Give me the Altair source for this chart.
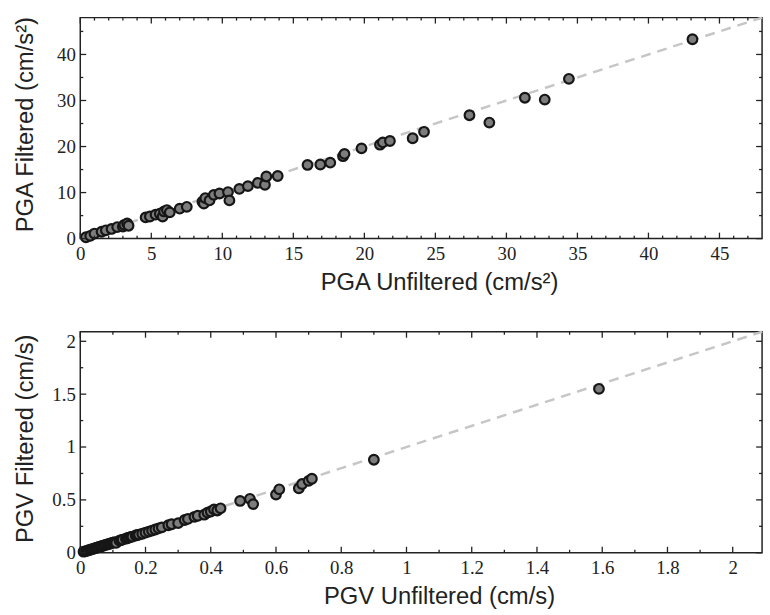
import altair as alt
import pandas as pd

# ---------------- data ----------------
pga_unf = [0.4, 0.7, 1.0, 1.5, 1.8, 2.2, 2.6, 3.0, 3.1, 3.3, 3.4, 4.6, 4.9, 5.3, 5.6, 5.8,
           5.9, 6.1, 6.3, 7.0, 7.5, 8.6, 8.7, 8.8, 9.1, 9.4, 9.8, 10.4, 10.5, 11.2, 11.8,
           12.5, 13.0, 13.1, 13.9, 16.0, 16.9, 17.6, 18.5, 18.6, 19.8, 21.1, 21.3, 21.8,
           23.4, 24.2, 27.4, 28.8, 31.3, 32.7, 34.4, 43.1]
pga_fil = [0.3, 0.6, 1.1, 1.5, 1.8, 2.1, 2.5, 2.6, 3.0, 3.3, 2.8, 4.6, 4.8, 5.2, 5.4, 4.8,
           5.9, 6.2, 5.7, 6.5, 6.9, 8.0, 7.6, 8.8, 8.3, 9.5, 9.8, 10.1, 8.3, 10.8, 11.4,
           12.1, 11.7, 13.5, 13.6, 16.0, 16.1, 16.5, 17.9, 18.4, 19.6, 20.4, 20.9, 21.2,
           21.8, 23.2, 26.8, 25.2, 30.6, 30.2, 34.7, 43.3]

pgv_unf = [0.01, 0.015, 0.02, 0.025, 0.03, 0.035, 0.04, 0.045, 0.05, 0.055, 0.06, 0.065,
           0.07, 0.075, 0.08, 0.085, 0.09, 0.095, 0.10, 0.105, 0.11, 0.12, 0.125, 0.13,
           0.14, 0.145, 0.15, 0.155, 0.16, 0.17, 0.175, 0.18, 0.19, 0.20, 0.21, 0.22,
           0.23, 0.24, 0.25, 0.27, 0.28, 0.30, 0.32, 0.33, 0.35, 0.36, 0.38, 0.39, 0.40,
           0.41, 0.42, 0.43, 0.49, 0.52, 0.53, 0.60, 0.61, 0.67, 0.68, 0.70, 0.71, 0.90,
           1.59]
pgv_fil = [0.01, 0.013, 0.018, 0.024, 0.028, 0.033, 0.037, 0.043, 0.047, 0.052, 0.057,
           0.062, 0.066, 0.072, 0.076, 0.081, 0.085, 0.091, 0.095, 0.10, 0.093, 0.115,
           0.12, 0.124, 0.133, 0.14, 0.143, 0.15, 0.152, 0.163, 0.168, 0.172, 0.18, 0.19,
           0.20, 0.21, 0.22, 0.23, 0.24, 0.26, 0.27, 0.28, 0.31, 0.32, 0.34, 0.35, 0.36,
           0.38, 0.39, 0.41, 0.40, 0.42, 0.49, 0.51, 0.46, 0.55, 0.60, 0.61, 0.65, 0.68,
           0.70, 0.88, 1.55]

pga_domain = [0, 48]
pgv_domain = [0, 2.09]

pga_x_labels = [0, 5, 10, 15, 20, 25, 30, 35, 40, 45]
pga_y_labels = [0, 10, 20, 30, 40]
pgv_x_labels = [0, 0.2, 0.4, 0.6, 0.8, 1, 1.2, 1.4, 1.6, 1.8, 2]
pgv_y_labels = [0, 0.5, 1, 1.5, 2]

pga_x_minor = [v for v in range(1, 48) if v % 5 != 0]
pga_y_minor = [5, 15, 25, 35, 45]
pgv_x_minor = [0.1, 0.3, 0.5, 0.7, 0.9, 1.1, 1.3, 1.5, 1.7, 1.9]
pgv_y_minor = [0.25, 0.75, 1.25, 1.75]

W, H = 688, 223


def panel(xs, ys, domain, xlab, ylab, xtitle, ytitle, xminor, yminor, fmt):
    sx = alt.Scale(domain=domain, nice=False, zero=False)
    sy = alt.Scale(domain=domain, nice=False, zero=False)
    X = lambda: alt.X("x:Q", scale=sx, title=xtitle,
                      axis=alt.Axis(values=xlab, format=fmt, titleX=362,
                                    titleAlign="center"))
    Y = lambda: alt.Y("y:Q", scale=sy, title=ytitle,
                      axis=alt.Axis(values=ylab, format=fmt, titleX=-55,
                                    titleY=H / 2 - 4, titleBaseline="middle"))

    pts = pd.DataFrame({"x": xs, "y": ys})
    line = pd.DataFrame({"x": domain, "y": domain})

    layers = [
        alt.Chart(line).mark_line(color="#c6c6c6", strokeDash=[10, 7], strokeWidth=2.5)
        .encode(x=X(), y=Y()),
        alt.Chart(pts).mark_circle(size=95, color="#7d7d7d", opacity=1,
                                   stroke="#161616", strokeWidth=2.2)
        .encode(x=X(), y=Y()),
    ]
    # inward ticks on all four sides
    for vals, ln in ((xlab, 6), (xminor, 3)):
        d = pd.DataFrame({"x": vals})
        layers.append(alt.Chart(d).mark_rule(color="#222", strokeWidth=1.3)
                      .encode(x=X(), y=alt.value(H), y2=alt.value(H - ln)))
        layers.append(alt.Chart(d).mark_rule(color="#222", strokeWidth=1.3)
                      .encode(x=X(), y=alt.value(0), y2=alt.value(ln)))
    for vals, ln in ((ylab, 6), (yminor, 3)):
        d = pd.DataFrame({"y": vals})
        layers.append(alt.Chart(d).mark_rule(color="#222", strokeWidth=1.3)
                      .encode(y=Y(), x=alt.value(0), x2=alt.value(ln)))
        layers.append(alt.Chart(d).mark_rule(color="#222", strokeWidth=1.3)
                      .encode(y=Y(), x=alt.value(W), x2=alt.value(W - ln)))
    return alt.layer(*layers).properties(width=W, height=H)


top = panel(pga_unf, pga_fil, pga_domain, pga_x_labels, pga_y_labels,
            "PGA Unfiltered (cm/s²)", "PGA Filtered (cm/s²)",
            pga_x_minor, pga_y_minor, "d")
bottom = panel(pgv_unf, pgv_fil, pgv_domain, pgv_x_labels, pgv_y_labels,
               "PGV Unfiltered (cm/s)", "PGV Filtered (cm/s)",
               pgv_x_minor, pgv_y_minor, "~g")

chart = alt.vconcat(top, bottom, spacing=31).properties(
    padding={"left": 13, "top": 9, "right": 2, "bottom": 0}
).configure_view(
    stroke="#222", strokeWidth=1.5
).configure_axis(
    domain=False, ticks=False, grid=False,
    labelFont="Times New Roman, Liberation Serif, serif", labelFontSize=19,
    labelColor="#222", labelPadding=6,
    titleFont="Liberation Sans", titleFontSize=24, titleFontWeight="normal",
    titleColor="#222", titlePadding=7, labelFlush=False
).configure_axisY(labelPadding=5)

chart.save("out.html", embed_options={"renderer": "svg", "actions": False})
